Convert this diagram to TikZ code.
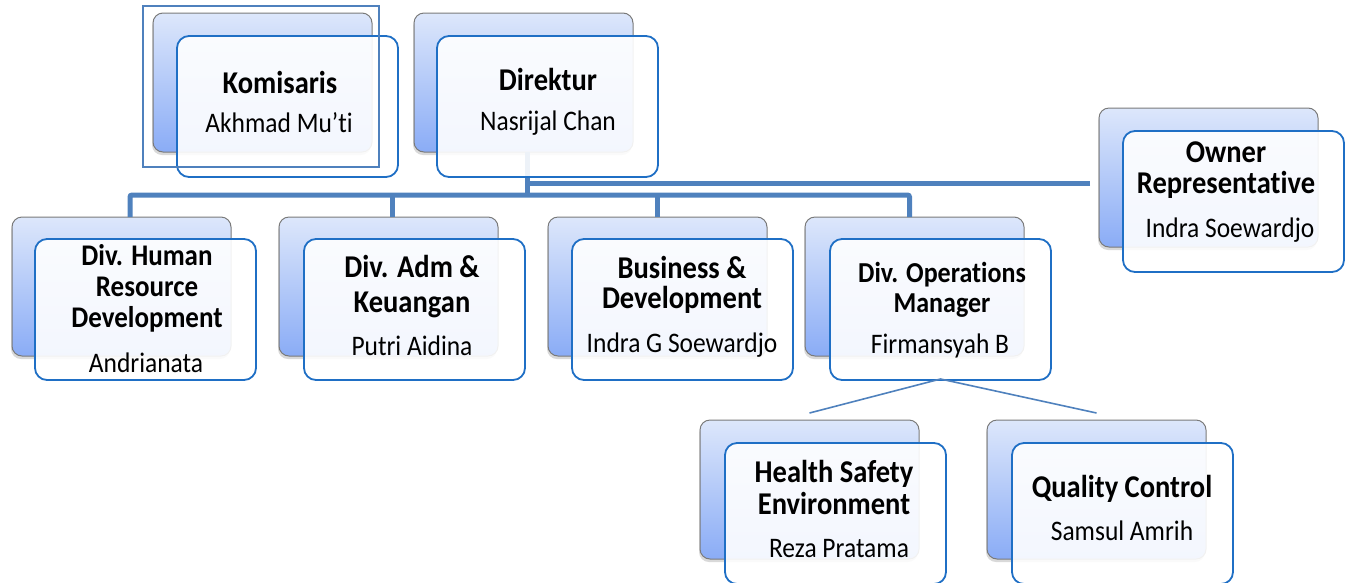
\documentclass[tikz,border=0pt]{standalone}
\usepackage{fontspec}
\setmainfont{Carlito}[Ligatures=NoCommon, FakeStretch=0.9]
\usetikzlibrary{shadows}
\definecolor{barblue}{HTML}{4F81BD}
\definecolor{edgeblue}{HTML}{1F6FC5}
\definecolor{gtop}{HTML}{DDE7FB}
\definecolor{gbot}{HTML}{8AACF6}
\definecolor{backedge}{HTML}{7A7A7A}
\newcommand{\ttl}[2][31.7]{{\fontsize{#1}{31}\selectfont\bfseries\begin{tabular}[t]{@{}c@{}}#2\end{tabular}}}
\newcommand{\nm}[1]{{\fontsize{28.3}{30}\selectfont #1}}
\begin{document}
\begin{tikzpicture}[x=1pt,y=-1pt,
  backbox/.style={draw=backedge, line width=1pt, rounded corners=10pt,
    top color=gtop, bottom color=gbot, minimum width=219pt, minimum height=139pt,
    anchor=north west, inner sep=0pt, outer sep=0pt,
    drop shadow={shadow xshift=-1pt, shadow yshift=-3pt, opacity=0.3}},
  frontbox/.style={draw=edgeblue, line width=1.8pt, rounded corners=12pt,
    fill=white, fill opacity=0.9, minimum width=221pt, minimum height=141pt,
    anchor=north west, inner sep=0pt, outer sep=0pt},
  bar/.style={draw=barblue, line width=5pt},
  thinconn/.style={draw=barblue, line width=1.6pt},
  txt/.style={anchor=base, inner sep=0pt, align=center}]
\useasboundingbox (0,0) rectangle (1346,582);
% back boxes
\node[backbox] (kb) at (153,13) {};
\node[backbox] (db) at (414,13) {};
\node[backbox] (ob) at (1099,108) {};
\node[backbox] (hrb) at (12,217) {};
\node[backbox] (adb) at (279,217) {};
\node[backbox] (bub) at (548,217) {};
\node[backbox] (opb) at (805,217) {};
\node[backbox] (hsb) at (700,420) {};
\node[backbox] (qcb) at (987,420) {};
% connectors
\draw[bar] ([xshift=3.5pt]db.south) -- ++(0,43) coordinate (jn);
\draw[bar, rounded corners=2pt] ([xshift=8.5pt]hrb.north) |- ([xshift=-5pt]opb.north |- jn) -- ([xshift=-5pt]opb.north);
\draw[bar] ([xshift=4pt]adb.north) -- ([xshift=4pt]adb.north |- jn);
\draw[bar] (bub.north) -- (bub.north |- jn);
\coordinate (ownend) at (1090,183);
\draw[bar] (ownend) -- (ownend -| jn);
% front boxes
\node[frontbox] (kf) at (177,36) {};
\node[frontbox] (df) at (437,36) {};
\node[frontbox] (of) at (1123,131) {};
\node[frontbox] (hrf) at (35,239) {};
\node[frontbox] (adf) at (304,239) {};
\node[frontbox] (buf) at (572,239) {};
\node[frontbox] (opf) at (830,239) {};
\node[frontbox] (hsf) at (725,443) {};
\node[frontbox] (qcf) at (1012,443) {};
\draw[thinconn] ([yshift=7pt]hsb.north) -- ([yshift=1pt]opf.south) -- ([yshift=7pt]qcb.north);
% selection frame
\node[draw=barblue, line width=1.4pt, minimum width=236pt, minimum height=161pt, anchor=north west, inner sep=0pt, outer sep=0pt] (sel) at (143,6) {};
% texts
\node[txt] (kt) at (280,93) {\ttl{Komisaris}};
\node[txt] (kn) at (279,132) {\nm{Akhmad Mu’ti}};
\node[txt] (dt) at (548,90) {\ttl{Direktur}};
\node[txt] (dn) at (548,130) {\nm{Nasrijal Chan}};
\node[txt] (ot) at (1226,162) {\ttl{Owner\\Representative}};
\node[txt] (on) at (1230,237) {\nm{Indra Soewardjo}};
\node[txt] (hrt) at (147,265) {\ttl[30]{Div. Human\\Resource\\Development}};
\node[txt] (hrn) at (146,372) {\nm{Andrianata}};
\node[txt] (adt) at (412,277) {\ttl{Div. Adm \&\\[4pt]Keuangan}};
\node[txt] (adn) at (412,355) {\nm{Putri Aidina}};
\node[txt] (but) at (682,278) {\ttl{Business \&\\[-1pt]Development}};
\node[txt] (bun) at (682,352) {\nm{Indra G Soewardjo}};
\node[txt] (opt) at (942,282) {\ttl[28.9]{Div. Operations\\[-1pt]Manager}};
\node[txt] (opn) at (940,353) {\nm{Firmansyah B}};
\node[txt] (hst) at (834,482) {\ttl{Health Safety\\[1pt]Environment}};
\node[txt] (hsn) at (839,557) {\nm{Reza Pratama}};
\node[txt] (qct) at (1122,497) {\ttl{Quality Control}};
\node[txt] (qcn) at (1122,540) {\nm{Samsul Amrih}};
\end{tikzpicture}
\end{document}
